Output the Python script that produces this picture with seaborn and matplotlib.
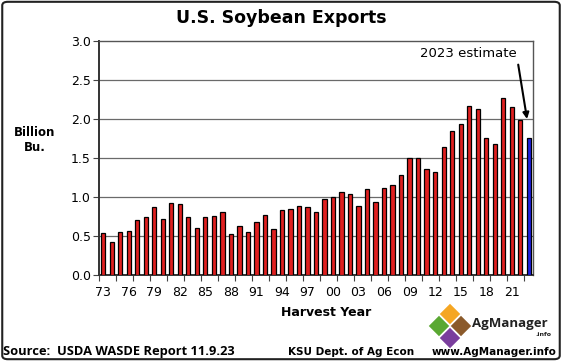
import matplotlib
matplotlib.use("Agg")
import matplotlib.pyplot as plt
from matplotlib.patches import Polygon, FancyBboxPatch
import seaborn as sns
import pandas as pd
import numpy as np

years = list(range(1973, 2024))
exports = [0.539, 0.421, 0.555, 0.564, 0.700, 0.739, 0.875, 0.724, 0.929, 0.905,
           0.740, 0.598, 0.741, 0.757, 0.802, 0.527, 0.623, 0.557, 0.684, 0.770,
           0.589, 0.838, 0.851, 0.882, 0.873, 0.805, 0.973, 0.996, 1.064, 1.044,
           0.887, 1.097, 0.940, 1.116, 1.159, 1.279, 1.499, 1.501, 1.365, 1.317,
           1.638, 1.842, 1.942, 2.166, 2.129, 1.752, 1.679, 2.266, 2.152, 1.992,
           1.755]
status = ["actual"] * (len(years) - 1) + ["estimate"]
tick_labels = ["73", "76", "79", "82", "85", "88", "91", "94", "97", "00",
               "03", "06", "09", "12", "15", "18", "21"]
y_ticks = [0.0, 0.5, 1.0, 1.5, 2.0, 2.5, 3.0]

df = pd.DataFrame({"year": [str(y) for y in years], "exports": exports, "status": status})

sns.set_theme(style="white")
plt.rcParams["font.family"] = ["DejaVu Sans"]
plt.rcParams["text.color"] = "black"
plt.rcParams["xtick.color"] = "black"
plt.rcParams["ytick.color"] = "black"

fig = plt.figure(figsize=(5.62, 3.61), dpi=100)
ax = fig.add_axes([99/562, 1 - 275/361, 434/562, 234/361])

sns.barplot(data=df, x="year", y="exports", hue="status",
            palette={"actual": "#ff0000", "estimate": "#0000ff"},
            dodge=False, legend=False, width=0.5,
            edgecolor="black", linewidth=0.9, ax=ax, zorder=3)

ax.set_ylim(0, 3.0)
ax.set_xlim(-0.5, len(years) - 0.5)
ax.set_yticks(y_ticks)
ax.set_yticklabels([f"{v:.1f}" for v in y_ticks], fontsize=9)
for v in y_ticks[1:-1]:
    ax.axhline(v, color="#6a6a6a", linewidth=0.9, zorder=1)

label_pos = [years.index(1900 + int(t) if int(t) > 50 else 2000 + int(t)) for t in tick_labels]
ax.set_xticks(label_pos)
ax.set_xticklabels(tick_labels, fontsize=9)
ax.set_xticks(np.arange(-0.5, len(years) - 1, 2), minor=True)
ax.tick_params(axis="x", which="major", length=0, pad=8)
ax.tick_params(axis="x", which="minor", length=4, width=0.8, color="#444444", direction="out", bottom=True)
ax.tick_params(axis="y", which="major", length=4, width=0.8, color="#444444", direction="out", left=True, pad=2)
ax.set_xlabel("")
ax.set_ylabel("")

for side in ["left", "bottom"]:
    ax.spines[side].set_color("#333333")
    ax.spines[side].set_linewidth(1.4)
for side in ["top", "right"]:
    ax.spines[side].set_color("#555555")
    ax.spines[side].set_linewidth(1.0)

fig.text(0.5, 1 - 18/361, "U.S. Soybean Exports", ha="center", va="center",
         fontsize=12.5, fontweight="bold")
fig.text(35/562, 1 - 140/361, "Billion\nBu.", ha="center", va="center",
         fontsize=8.5, fontweight="bold", linespacing=1.15)
fig.text(326/562, 1 - 312/361, "Harvest Year", ha="center", va="center",
         fontsize=9, fontweight="bold")

ax.annotate("2023 estimate", xy=(49.8, 2.0), xytext=(48.6, 2.84),
            ha="right", va="center", fontsize=9.5,
            arrowprops=dict(arrowstyle="-|>", color="black", lw=1.5,
                            shrinkA=1, shrinkB=0, mutation_scale=9,
                            relpos=(1.0, 0.3)))

fig.text(3/562, 1 - 352/361, "Source:  USDA WASDE Report 11.9.23", ha="left", va="center",
         fontsize=9.3, fontweight="bold", family=["Open Sans", "DejaVu Sans"])
fig.text(288/562, 1 - 352/361, "KSU Dept. of Ag Econ", ha="left", va="center",
         fontsize=7.5, fontweight="bold")
fig.text(557/562, 1 - 352/361, "www.AgManager.info", ha="right", va="center",
         fontsize=7.5, fontweight="bold")

# logo diamonds
def diamond(cx, cy, rx, ry, color):
    p = Polygon([(x / 562, 1 - y / 361) for x, y in [(cx, cy - ry), (cx + rx, cy), (cx, cy + ry), (cx - rx, cy)]],
                closed=True, transform=fig.transFigure, facecolor=color, edgecolor="white", lw=0.8)
    fig.patches.append(p)

diamond(450, 314, 11, 11, "#f5a623")
diamond(439, 326, 11, 11, "#5aa832")
diamond(461, 326, 11, 11, "#8b5a2b")
diamond(450, 338, 11, 11, "#7a3e9d")
fig.text(472/562, 1 - 324/361, "AgManager", ha="left", va="center",
         fontsize=9.5, fontweight="bold", color="#222222",
         family=["Open Sans", "DejaVu Sans"])
fig.text(551/562, 1 - 334/361, ".info", ha="right", va="center",
         fontsize=4.5, fontweight="bold", color="#222222")

border = FancyBboxPatch((0.004, 0.005), 0.992, 0.99, boxstyle="round,pad=0,rounding_size=0.01",
                        transform=fig.transFigure, facecolor="none", edgecolor="#222222", lw=1.5)
fig.patches.append(border)

fig.savefig("out.png", dpi=100)
